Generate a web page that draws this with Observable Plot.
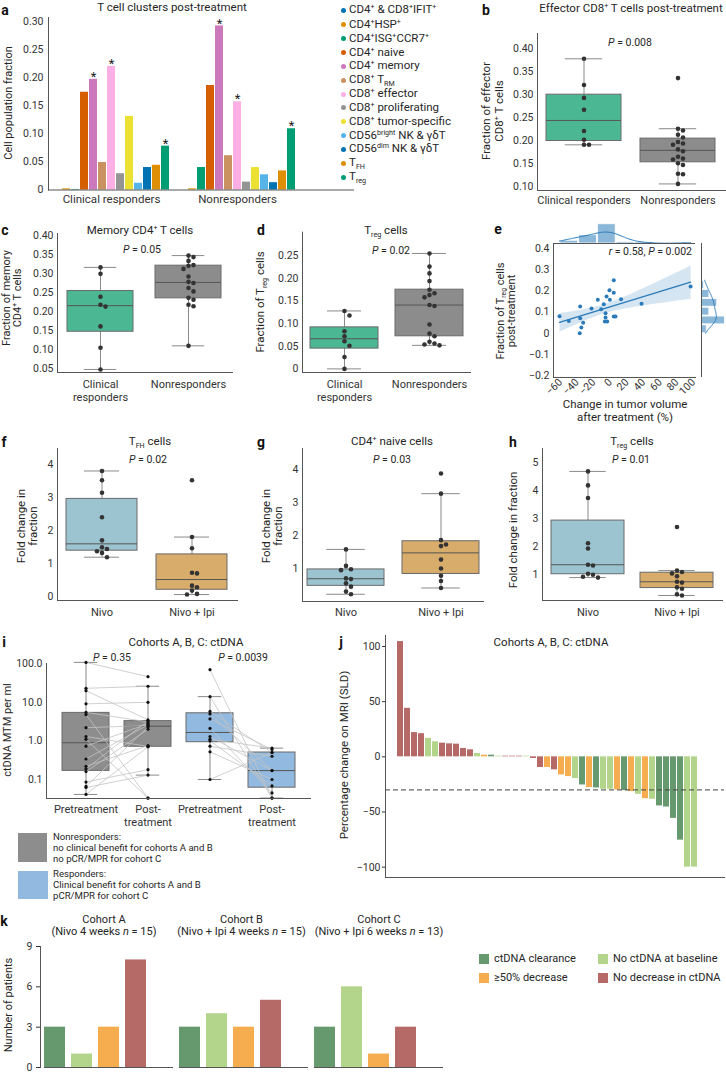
<!DOCTYPE html>
<html><head><meta charset="utf-8">
<script src="https://cdn.jsdelivr.net/npm/d3@7"></script>
<script src="https://cdn.jsdelivr.net/npm/@observablehq/plot@0.6"></script>
<style>
body{margin:0;background:#fff;}
#root{position:relative;width:726px;height:1073px;overflow:hidden;font-family:Roboto,"Noto Sans",sans-serif;color:#262626;background:#fff;}
.t{position:absolute;white-space:nowrap;line-height:1.15;}
.t sup{font-size:0.62em;vertical-align:0.6em;line-height:0;}
.t sub{font-size:0.62em;vertical-align:-0.3em;line-height:0;}
.sw{position:absolute;}
</style></head><body><div id="root"></div><script>
// ---------------- DATA ----------------
// panel a
const clusterNames = ["CD4+ & CD8+IFIT+","CD4+HSP+","CD4+ISG+CCR7+","CD4+ naive","CD4+ memory","CD8+ TRM","CD8+ effector","CD8+ proliferating","CD8+ tumor-specific","CD56bright NK & γδT","CD56dim NK & γδT","TFH","Treg"];
const clusterGroups = ["Clinical responders","Nonresponders"];
const clusterFracResponders = [0, 0.002, 0.001, 0.174, 0.197, 0.049, 0.220, 0.029, 0.131, 0.012, 0.040, 0.044, 0.078];
const clusterFracNonresponders = [0, 0.002, 0.040, 0.186, 0.292, 0.061, 0.157, 0.014, 0.040, 0.027, 0.013, 0.034, 0.109];
const clusterSignificant = ["CD4+ memory","CD8+ effector","Treg"];
const aTicks = [0, 0.05, 0.10, 0.15, 0.20, 0.25, 0.30];
// panel b
const responseGroups = ["Clinical responders","Nonresponders"];
const effectorResponders = [0.377, 0.320, 0.292, 0.266, 0.220, 0.201, 0.190, 0.190];
const effectorNonresponders = [0.335, 0.225, 0.221, 0.212, 0.206, 0.196, 0.193, 0.190, 0.180, 0.176, 0.164, 0.160, 0.158, 0.150, 0.146, 0.127, 0.126, 0.105];
const bTicks = [0.10, 0.15, 0.20, 0.25, 0.30, 0.35, 0.40];
// panel c
const memoryResponders = [0.316, 0.299, 0.239, 0.218, 0.213, 0.161, 0.105, 0.048];
const memoryNonresponders = [0.347, 0.343, 0.333, 0.322, 0.320, 0.312, 0.292, 0.278, 0.275, 0.262, 0.253, 0.236, 0.231, 0.218, 0.214, 0.110];
const cTicks = [0.05, 0.10, 0.15, 0.20, 0.25, 0.30, 0.35, 0.40];
// panel d
const tregResponders = [0.128, 0.118, 0.083, 0.072, 0.061, 0.051, 0.026, 0.0];
const tregNonresponders = [0.255, 0.226, 0.211, 0.194, 0.175, 0.167, 0.163, 0.158, 0.141, 0.139, 0.098, 0.078, 0.072, 0.060, 0.056, 0.054, 0.052];
const dTicks = [0, 0.05, 0.10, 0.15, 0.20, 0.25];
// panel e
const tumorVolumeChange = [-61.2, -50, -36.3, -36.3, -32.7, -34.9, -36.8, -22.7, -15.1, -11.1, -7.9, -4.6, -0.6, -5.8, -5.8, -6.6, -3.8, -1.1, 4.1, 4.1, 4.1, 6.2, 12.9, 37.5, 96.5];
const tregPostTreatment = [0.080, 0.058, 0.126, 0.071, 0.050, 0.027, 0.0, 0.117, 0.158, 0.114, 0.137, 0.174, 0.158, 0.095, 0.074, 0.055, 0.055, 0.204, 0.192, 0.251, 0.079, 0.079, 0.161, 0.140, 0.221];
const eXTicks = [-60, -40, -20, 0, 20, 40, 60, 80, 100];
const eYTicks = [-0.2, -0.1, 0, 0.1, 0.2, 0.3, 0.4];
// panels f, g, h
const armGroups = ["Nivo","Nivo + Ipi"];
const tfhNivo = [3.80, 3.52, 3.14, 2.40, 1.70, 1.49, 1.44, 1.37, 1.32, 1.19];
const tfhNivoIpi = [3.52, 1.80, 1.46, 0.72, 0.70, 0.33, 0.28, 0.18, 0.08, 0.06];
const naiveNivo = [1.58, 1.08, 0.98, 0.95, 0.70, 0.68, 0.55, 0.45, 0.30, 0.22];
const naiveNivoIpi = [3.88, 3.27, 1.86, 1.73, 1.68, 1.27, 1.00, 0.78, 0.62, 0.41];
const tregFoldNivo = [4.70, 4.20, 3.75, 2.13, 1.94, 1.36, 1.33, 1.04, 1.00, 0.93, 0.90];
const tregFoldNivoIpi = [2.71, 1.15, 1.10, 1.05, 0.95, 0.75, 0.72, 0.55, 0.50, 0.30, 0.26];
const fTicks = [0, 1, 2, 3, 4];
const gTicks = [1, 2, 3, 4];
const hTicks = [1, 2, 3, 4, 5];
// panel i
const ctdnaColumns = ["NR|pre","NR|post","R|pre","R|post"];
const ctdnaNRPre  = [108, 23, 20, 9.1, 5.5, 4.8, 2.2, 1.3, 1.1, 0.73, 0.34, 0.22, 0.19, 0.16, 0.086, 0.066, 0.062, 0.041];
const ctdnaNRPost = [46, 26, 3.5, 10, 3.1, 0.033, 2.5, 0.72, 0.033, 2.8, 2.6, 0.75, 3.3, 2.0, 0.18, 2.3, 0.13, 0.70];
const ctdnaRPre  = [70, 14, 5.8, 5.0, 3.7, 2.1, 1.3, 1.1, 1.0, 0.73, 0.52, 0.10];
const ctdnaRPost = [0.033, 0.033, 0.5, 0.17, 0.6, 0.045, 0.17, 0.65, 0.068, 0.4, 0.10, 0.5];
const iTicks = [0.1, 1, 10, 100];
// panel j
const statusCodes = ["C","B","D","N"];
const statusNames = ["ctDNA clearance","No ctDNA at baseline","≥50% decrease","No decrease in ctDNA"];
const mriChange = [104.5, 44, 22, 21, 16.7, 13.6, 12.4, 11.8, 11.5, 7.6, 6.4, 3.0, 1.5, 1.5, 0.6, 0.6, 0.6, 0.6, 0.6, -1.5, -9.7, -9.7, -11.8, -16.4, -17.9, -19.7, -25.5, -27.9, -28.2, -29.4, -29.4, -30, -30.6, -31.5, -34, -37.9, -38.5, -44.5, -45.5, -55.8, -75.5, -100, -100];
const mriStatus = ["N","N","N","N","B","B","N","N","N","N","N","B","D","C","B","N","N","N","B","N","N","D","N","D","D","B","C","D","C","B","B","D","C","D","B","D","B","C","C","C","C","B","B"];
const jTicks = [-100, -50, 0, 50, 100];
const jThreshold = -30;
// panel k
const cohortNames = ["Cohort A","Cohort B","Cohort C"];
const cohortACounts = [3, 1, 3, 8];
const cohortBCounts = [3, 4, 3, 5];
const cohortCCounts = [3, 6, 1, 3];
const kTicks = [0, 3, 6, 9];

// ---------------- STYLE ----------------
const FONT = "Roboto, 'Noto Sans', sans-serif";
const paletteA = ["#0173b2","#de8f05","#029e73","#d55e00","#cc78bc","#ca9161","#fbafe4","#949494","#ece133","#56b4e9","#0173b2","#de8f05","#029e73"];
const respColors = ["#4cb893", "#8c8c8c"];
const armColors = ["#9bc4d0", "#d8ac6b"];
const ctdnaColors = ["#8d8d8d", "#8d8d8d", "#92b9df", "#92b9df"];
const statusColors = ["#67996f", "#b3d58b", "#f6ad4f", "#b66a67"];
const E_BLUE = "#2b7bba";
const SPINE = "#555";
const baseStyle = {fontFamily: FONT, fontSize: "10.5px", color: "#333", background: "transparent", overflow: "visible", maxWidth: "none"};

const root = document.getElementById("root");
function mkPlot(opts, left, top) {
  const svg = Plot.plot({...opts, style: baseStyle});
  const w = document.createElement("div");
  w.style.cssText = `position:absolute;left:${left}px;top:${top}px;width:${opts.width}px;height:${opts.height}px;`;
  w.appendChild(svg);
  root.appendChild(w);
  return svg;
}
function txt(html, x, y, o = {}) {
  const d = document.createElement("div");
  d.className = "t";
  d.innerHTML = html;
  d.style.left = x + "px"; d.style.top = y + "px";
  d.style.fontSize = (o.size || 11.5) + "px";
  if (o.bold) d.style.fontWeight = "700";
  if (o.color) d.style.color = o.color;
  if (o.lh) d.style.lineHeight = o.lh;
  d.style.textAlign = o.align || "center";
  const ax = o.anchor === "start" ? "0" : o.anchor === "end" ? "-100%" : "-50%";
  d.style.transform = `translate(${ax},-50%)` + (o.rotate ? ` rotate(${o.rotate}deg)` : "");
  root.appendChild(d);
}
function swatch(x, y, w, h, color) {
  const d = document.createElement("div");
  d.className = "sw";
  d.style.cssText = `left:${x}px;top:${y}px;width:${w}px;height:${h}px;background:${color};`;
  root.appendChild(d);
}

// ---------------- HELPERS ----------------
function boxStats(group, vals, log) {
  const s = (log ? vals.map(Math.log10) : vals.slice()).sort(d3.ascending);
  const q1 = d3.quantile(s, 0.25), med = d3.quantile(s, 0.5), q3 = d3.quantile(s, 0.75);
  const iqr = q3 - q1;
  const lo = d3.min(s.filter(v => v >= q1 - 1.5 * iqr));
  const hi = d3.max(s.filter(v => v <= q3 + 1.5 * iqr));
  const f = log ? v => Math.pow(10, v) : v => v;
  return {group, q1: f(q1), med: f(med), q3: f(q3), lo: f(lo), hi: f(hi)};
}
function swarm(vals, yPix, d) {
  const pts = vals.map(v => ({v, py: yPix(v)})).sort((a, b) => a.py - b.py);
  const placed = [];
  for (const p of pts) {
    for (const k of [0, 1, -1, 2, -2, 3, -3, 4, -4]) {
      const x = k * d;
      if (placed.every(q => (q.x - x) ** 2 + (q.py - p.py) ** 2 >= d * d * 0.9)) { p.x = x; p.k = k; break; }
    }
    placed.push(p);
  }
  return pts;
}
function boxPanel(o) {
  const n = o.groups.length;
  const fx0 = o.ml, fx1 = o.width - o.mr, fy0 = o.mt, fy1 = o.height - o.mb;
  const step = (fx1 - fx0) / (n - o.pi + 2 * o.po);
  const bw = step * (1 - o.pi);
  const [d0, d1] = o.yDomain;
  const tr = o.log ? Math.log10 : v => v;
  const yPix = v => fy1 - (tr(v) - tr(d0)) / (tr(d1) - tr(d0)) * (fy1 - fy0);
  const stats = o.groups.map((g, i) => boxStats(g, o.series[i], o.log));
  const gap = o.dotGap || 5;
  const pts = [];
  o.groups.forEach((g, i) => {
    const sw = o.noSwarm ? o.series[i].map(v => ({v, k: 0})) : swarm(o.series[i], yPix, gap);
    sw.forEach(p => pts.push({group: g, value: p.v, k: p.k}));
  });
  const ks = Array.from(new Set(pts.map(p => p.k)));
  const marks = [
    Plot.ruleX(stats, {x: "group", y1: "lo", y2: "hi", stroke: "#8a8a8a", strokeWidth: 1}),
    Plot.tickY(stats, {x: "group", y: "lo", stroke: "#8a8a8a", insetLeft: bw * 0.25, insetRight: bw * 0.25}),
    Plot.tickY(stats, {x: "group", y: "hi", stroke: "#8a8a8a", insetLeft: bw * 0.25, insetRight: bw * 0.25}),
    Plot.barY(stats, {x: "group", y1: "q1", y2: "q3", fill: "group", stroke: "#6a6a6a", strokeWidth: 1}),
    Plot.tickY(stats, {x: "group", y: "med", stroke: "#555", strokeWidth: 1}),
    ...(o.over || []),
    ...ks.map(k => Plot.dot(pts.filter(p => p.k === k), {x: "group", y: "value", dx: k * gap, r: o.r || 2.3, fill: o.dotFill || "#333", stroke: "none"})),
    Plot.text(o.groups, {x: d => d, text: o.xFmt || (d => d), frameAnchor: "bottom", lineAnchor: "top", dy: o.xPad || 5, lineHeight: 1.15, fontSize: 11, fill: "#333"}),
    Plot.frame({anchor: "left", stroke: SPINE}),
    Plot.frame({anchor: "bottom", stroke: SPINE})
  ];
  mkPlot({
    width: o.width, height: o.height, marginTop: o.mt, marginBottom: o.mb, marginLeft: o.ml, marginRight: o.mr,
    x: {domain: o.groups, paddingInner: o.pi, paddingOuter: o.po, axis: null},
    y: {type: o.log ? "log" : "linear", domain: o.yDomain, ticks: o.ticks, tickFormat: o.yFmt, label: null, tickSize: 0, tickPadding: 4},
    color: {domain: o.groups, range: o.fills},
    marks
  }, o.left, o.top);
}
const fmt2 = d => d === 0 ? "0" : d.toFixed(2);
const fmt2b = d => d.toFixed(2);
const fmtInt = d => String(d);
const respFmt2 = d => d === "Clinical responders" ? "Clinical\nresponders" : d;

// ---------------- PANEL a ----------------
{
  const rows = [];
  clusterGroups.forEach((g, gi) => {
    const vals = gi === 0 ? clusterFracResponders : clusterFracNonresponders;
    clusterNames.forEach((c, ci) => rows.push({key: g + "|" + c, cluster: c, group: g, value: vals[ci]}));
  });
  const domain = [
    ...clusterNames.map(c => clusterGroups[0] + "|" + c), "gap",
    ...clusterNames.map(c => clusterGroups[1] + "|" + c), "t1", "t2", "t3", "t4", "t5", "t6"
  ];
  mkPlot({
    width: 360, height: 212, marginLeft: 48, marginRight: 6, marginTop: 17, marginBottom: 22.5,
    x: {domain, paddingInner: 0.12, paddingOuter: 0, axis: null},
    y: {domain: [0, 0.307], ticks: aTicks, tickFormat: fmt2, tickSize: 0, tickPadding: 5, label: null},
    color: {domain: clusterNames, range: paletteA},
    marks: [
      Plot.barY(rows, {x: "key", y: "value", fill: "cluster"}),
      Plot.text(rows.filter(r => clusterSignificant.includes(r.cluster)), {x: "key", y: "value", text: () => "*", dy: -2.5, fontSize: 13, fill: "#222"}),
      Plot.text(clusterGroups, {x: g => g + "|" + clusterNames[6], frameAnchor: "bottom", lineAnchor: "top", dy: 5, fontSize: 11.5, text: d => d, fill: "#333"}),
      Plot.ruleY([0], {stroke: SPINE}),
      Plot.frame({anchor: "left", stroke: SPINE})
    ]
  }, 0, 0);
}

// ---------------- PANEL b, c, d ----------------
boxPanel({left: 450, top: 25, width: 276, height: 190, ml: 87, mr: 1, mt: 8, mb: 25,
  groups: responseGroups, series: [effectorResponders, effectorNonresponders], fills: respColors,
  yDomain: [0.0907, 0.432], ticks: bTicks, yFmt: fmt2b, pi: 0.2, po: 0.1, xPad: 5});
boxPanel({left: 0, top: 225, width: 240, height: 180, ml: 57, mr: 8, mt: 8, mb: 33,
  groups: responseGroups, series: [memoryResponders, memoryNonresponders], fills: respColors,
  yDomain: [0.04, 0.405], ticks: cTicks, yFmt: fmt2b, pi: 0.245, po: 0.11, xPad: 7, xFmt: respFmt2});
boxPanel({left: 255, top: 225, width: 220, height: 180, ml: 47, mr: 5, mt: 6.7, mb: 33,
  groups: responseGroups, series: [tregResponders, tregNonresponders], fills: respColors,
  yDomain: [-0.008, 0.302], ticks: dTicks, yFmt: fmt2, pi: 0.2, po: 0.088, xPad: 7, xFmt: respFmt2});

// ---------------- PANEL e ----------------
{
  const ePts = tumorVolumeChange.map((x, i) => ({x, y: tregPostTreatment[i]}));
  const xs = tumorVolumeChange, ys = tregPostTreatment;
  const xMin = d3.min(xs), xMax = d3.max(xs), yMin = d3.min(ys), yMax = d3.max(ys);
  const nbx = 7, nby = 6;
  const eBinX = d3.range(nbx + 1).map(i => xMin + i * (xMax - xMin) / nbx);
  const eBinY = d3.range(nby + 1).map(i => yMin + i * (yMax - yMin) / nby);
  const countBins = (vals, th) => th.slice(0, -1).map((t, i) => vals.filter(v => v >= t && (i === th.length - 2 ? v <= th[i + 1] : v < th[i + 1])).length);
  const cx = countBins(xs, eBinX), cy = countBins(ys, eBinY);
  function kde(vals, lo, hi, binW) {
    const n = vals.length, sd = d3.deviation(vals), bw = sd * Math.pow(n, -0.2);
    return d3.range(120).map(i => {
      const v = lo + (hi - lo) * i / 119;
      const dens = d3.sum(vals, u => Math.exp(-0.5 * ((v - u) / bw) ** 2)) / (n * bw * Math.sqrt(2 * Math.PI));
      return {v, c: dens * n * binW};
    });
  }
  const kx = kde(xs, xMin, xMax, (xMax - xMin) / nbx);
  const ky = kde(ys, yMin, yMax, (yMax - yMin) / nby);
  const topMax = Math.max(d3.max(cx), d3.max(kx, d => d.c)) * 1.04;
  const rightMax = Math.max(d3.max(cy), d3.max(ky, d => d.c)) * 1.06;
  const xDom = [-68.4, 102.4], yDom = [-0.21, 0.425];
  mkPlot({
    width: 210, height: 190, marginLeft: 63, marginRight: 5, marginTop: 3, marginBottom: 53,
    x: {domain: xDom, ticks: eXTicks, tickRotate: -45, tickSize: 0, tickPadding: 3, label: null, tickFormat: d => d3.format("d")(d)},
    y: {domain: yDom, ticks: eYTicks, tickSize: 0, tickPadding: 4, label: null, tickFormat: d => d === 0 ? "0" : d3.format(".1f")(d)},
    marks: [
      Plot.linearRegressionY(ePts, {x: "x", y: "y", stroke: E_BLUE, fill: E_BLUE, fillOpacity: 0.2, strokeWidth: 1.3}),
      Plot.dot(ePts, {x: "x", y: "y", r: 2, fill: E_BLUE}),
      Plot.frame({anchor: "left", stroke: SPINE}),
      Plot.frame({anchor: "bottom", stroke: SPINE})
    ]
  }, 490, 240);
  mkPlot({
    width: 142, height: 23, marginLeft: 0, marginRight: 0, marginTop: 3, marginBottom: 0,
    x: {domain: xDom, axis: null}, y: {domain: [0, topMax], axis: null},
    marks: [
      Plot.rectY(ePts, Plot.binX({y: "count"}, {x: "x", thresholds: eBinX, fill: E_BLUE, fillOpacity: 0.55, stroke: "white", strokeWidth: 0.8})),
      Plot.line(kx, {x: "v", y: "c", stroke: E_BLUE, strokeWidth: 1}),
      Plot.ruleY([0], {stroke: SPINE})
    ]
  }, 553, 220);
  mkPlot({
    width: 26, height: 134, marginLeft: 1, marginRight: 0, marginTop: 0, marginBottom: 0,
    x: {domain: [0, rightMax], axis: null}, y: {domain: yDom, axis: null},
    marks: [
      Plot.rectX(ePts, Plot.binY({x: "count"}, {y: "y", thresholds: eBinY, fill: E_BLUE, fillOpacity: 0.55, stroke: "white", strokeWidth: 0.8})),
      Plot.line(ky, {x: "c", y: "v", stroke: E_BLUE, strokeWidth: 1}),
      Plot.ruleX([0], {stroke: SPINE})
    ]
  }, 700, 243);
}

// ---------------- PANEL f, g, h ----------------
boxPanel({left: 0, top: 440, width: 245, height: 190, ml: 57, mr: 8, mt: 8, mb: 30,
  groups: armGroups, series: [tfhNivo, tfhNivoIpi], fills: armColors,
  yDomain: [-0.12, 4.48], ticks: fTicks, yFmt: fmtInt, pi: 0.209, po: 0.094, xPad: 7});
boxPanel({left: 250, top: 440, width: 240, height: 190, ml: 52, mr: 7, mt: 8, mb: 29,
  groups: armGroups, series: [naiveNivo, naiveNivoIpi], fills: armColors,
  yDomain: [0, 4.64], ticks: gTicks, yFmt: fmtInt, pi: 0.19, po: 0.047, xPad: 6});
boxPanel({left: 490, top: 440, width: 236, height: 190, ml: 52, mr: 4, mt: 8, mb: 30,
  groups: armGroups, series: [tregFoldNivo, tregFoldNivoIpi], fills: armColors,
  yDomain: [0.08, 5.52], ticks: hTicks, yFmt: fmtInt, pi: 0.184, po: 0.098, xPad: 7});

// ---------------- PANEL i ----------------
{
  const links = [
    ...ctdnaNRPre.map((v, i) => ({a: "NR|pre", b: "NR|post", pre: v, post: ctdnaNRPost[i]})),
    ...ctdnaRPre.map((v, i) => ({a: "R|pre", b: "R|post", pre: v, post: ctdnaRPost[i]}))
  ];
  boxPanel({left: 0, top: 655, width: 315, height: 180, ml: 46, mr: 5, mt: 8, mb: 37,
    groups: ctdnaColumns, series: [ctdnaNRPre, ctdnaNRPost, ctdnaRPre, ctdnaRPost], fills: ctdnaColors,
    yDomain: [0.0322, 101], log: true, ticks: iTicks, yFmt: d => d.toFixed(1), pi: 0.25, po: 0.227, xPad: 6,
    xFmt: d => d.endsWith("pre") ? "Pretreatment" : "Post-\ntreatment",
    noSwarm: true, r: 1.6, dotFill: "#111",
    over: [Plot.link(links, {x1: "a", y1: "pre", x2: "b", y2: "post", stroke: "#c4c4c4", strokeWidth: 0.8})]});
}

// ---------------- PANEL j ----------------
{
  const rows = mriChange.map((v, i) => ({i: String(i), v, s: statusNames[statusCodes.indexOf(mriStatus[i])]}));
  mkPlot({
    width: 371, height: 255, marginLeft: 30, marginRight: 2, marginTop: 7, marginBottom: 6,
    x: {domain: rows.map(d => d.i), paddingInner: 0.1, paddingOuter: 0.59, align: 0.3, axis: null},
    y: {domain: [-109.4, 110], ticks: jTicks, tickSize: 3, tickPadding: 2, label: null},
    color: {domain: statusNames, range: statusColors},
    marks: [
      Plot.barY(rows, {x: "i", y: "v", fill: "s"}),
      Plot.ruleY([jThreshold], {stroke: "#444", strokeDasharray: "5,3", strokeWidth: 1}),
      Plot.frame({anchor: "left", stroke: SPINE}),
      Plot.frame({anchor: "bottom", stroke: SPINE})
    ]
  }, 355, 628);
}

// ---------------- PANEL k ----------------
{
  const counts = [cohortACounts, cohortBCounts, cohortCCounts];
  const rows = [];
  cohortNames.forEach((c, ci) => statusNames.forEach((s, si) => rows.push({key: c + "|" + s, s, n: counts[ci][si]})));
  const domain = cohortNames.flatMap(c => [...statusNames.map(s => c + "|" + s), c + "|"]);
  mkPlot({
    width: 452, height: 133, marginLeft: 40, marginRight: 4, marginTop: 6, marginBottom: 6,
    x: {domain, paddingInner: 0.21, paddingOuter: 0.1, axis: null},
    y: {domain: [0, 9], ticks: kTicks, tickSize: 4, tickPadding: 4, label: null},
    color: {domain: statusNames, range: statusColors},
    marks: [
      Plot.barY(rows, {x: "key", y: "n", fill: "s"}),
      Plot.ruleY(cohortNames, {y: () => 0, x1: c => c + "|" + statusNames[0], x2: c => c + "|", stroke: SPINE}),
      Plot.frame({anchor: "left", stroke: SPINE})
    ]
  }, 0, 940);
}

// ---------------- TEXT OVERLAYS ----------------
// panel letters
[["a",5,10],["b",486,10],["c",5,230],["d",261,230],["e",498,229],["f",4,442],["g",261,442],["h",513,442],["i",4,642],["j",341,642],["k",4,921]]
  .forEach(([l, x, y]) => txt(l, x, y, {size: 14, bold: true, color: "#111"}));
// titles
txt("T cell clusters post-treatment", 172, 8);
txt("Effector CD8<sup>+</sup> T cells post-treatment", 631, 9);
txt("Memory CD4<sup>+</sup> T cells", 140, 231);
txt("T<sub>reg</sub> cells", 386, 231);
txt("T<sub>FH</sub> cells", 150, 442);
txt("CD4<sup>+</sup> naive cells", 392, 442);
txt("T<sub>reg</sub> cells", 632, 442);
txt("Cohorts A, B, C: ctDNA", 186, 643);
txt("Cohorts A, B, C: ctDNA", 551, 643);
// P values
const pv = (s) => "<i>P</i> = " + s;
txt(pv("0.008"), 630, 43, {size: 10.5});
txt(pv("0.05"), 142, 250, {size: 10.5});
txt(pv("0.02"), 391, 251, {size: 10.5});
txt(pv("0.02"), 148, 460, {size: 10.5});
txt(pv("0.03"), 392, 460, {size: 10.5});
txt(pv("0.01"), 631, 460, {size: 10.5});
txt(pv("0.35"), 112, 658, {size: 10.5});
txt(pv("0.0039"), 243, 658, {size: 10.5});
txt("<i>r</i> = 0.58, <i>P</i> = 0.002", 692, 252, {size: 10.5, anchor: "end"});
// axis labels
txt("Cell population fraction", 9, 103, {rotate: -90, size: 11});
txt("Fraction of effector<br>CD8<sup>+</sup> T cells", 493, 111, {rotate: -90, lh: 1.1});
txt("Fraction of memory<br>CD4<sup>+</sup> T cells", 12.5, 298, {rotate: -90, size: 11, lh: 0.98});
txt("Fraction of T<sub>reg</sub> cells", 261, 302, {rotate: -90});
txt("Fraction of T<sub>reg</sub> cells<br>post-treatment", 507, 311, {rotate: -90, size: 11, lh: 0.98});
txt("Fold change in<br>fraction", 27, 526, {rotate: -90, lh: 1.08});
txt("Fold change in<br>fraction", 272, 526, {rotate: -90, lh: 1.08});
txt("Fold change in fraction", 514, 530, {rotate: -90});
txt("ctDNA MTM per ml", 8, 730, {rotate: -90, size: 11});
txt("Percentage change on MRI (SLD)", 345, 755, {rotate: -90});
txt("Number of patients", 9, 1005, {rotate: -90, size: 11});
txt("Change in tumor volume<br>after treatment (%)", 625, 411, {lh: 1.1});
// panel a legend
const clusterLabelHTML = ["CD4<sup>+</sup> &amp; CD8<sup>+</sup>IFIT<sup>+</sup>","CD4<sup>+</sup>HSP<sup>+</sup>","CD4<sup>+</sup>ISG<sup>+</sup>CCR7<sup>+</sup>","CD4<sup>+</sup> naive","CD4<sup>+</sup> memory","CD8<sup>+</sup> T<sub>RM</sub>","CD8<sup>+</sup> effector","CD8<sup>+</sup> proliferating","CD8<sup>+</sup> tumor-specific","CD56<sup>bright</sup> NK &amp; γδT","CD56<sup>dim</sup> NK &amp; γδT","T<sub>FH</sub>","T<sub>reg</sub>"];
const legendRowsY = [10, 24.7, 38.7, 52.7, 66, 80, 94, 107.7, 121.7, 135.7, 149.3, 163.3, 177.3];
clusterLabelHTML.forEach((h, i) => {
  const d = document.createElement("div");
  d.className = "sw";
  d.style.cssText = `left:340.5px;top:${legendRowsY[i] - 2.5}px;width:5px;height:5px;border-radius:50%;background:${paletteA[i]};`;
  root.appendChild(d);
  txt(h, 349, legendRowsY[i], {size: 11.5, anchor: "start", align: "left"});
});
// panel i legend
swatch(18, 833, 29, 29, "#8d8d8d");
swatch(18, 871, 30, 28, "#92b9df");
[["Nonresponders:", 837], ["no clinical benefit for cohorts A and B", 848], ["no pCR/MPR for cohort C", 859],
 ["Responders:", 873.5], ["Clinical benefit for cohorts A and B", 884.5], ["pCR/MPR for cohort C", 895.5]]
  .forEach(([s, y]) => txt(s, 53, y, {size: 9.6, anchor: "start", align: "left"}));
// panel k titles and legend
txt("Cohort A<br>(Nivo 4 weeks <i>n</i> = 15)", 104, 926.5, {size: 11});
txt("Cohort B<br>(Nivo + Ipi 4 weeks <i>n</i> = 15)", 241.5, 926.5, {size: 11});
txt("Cohort C<br>(Nivo + Ipi 6 weeks <i>n</i> = 13)", 379, 926.5, {size: 11});
[[0, 479, 959], [1, 598, 959], [2, 479, 977.7], [3, 598, 977.7]].forEach(([i, x, y]) => {
  swatch(x, y - 5, 10, 10, statusColors[i]);
  txt(statusNames[i], x + 15, y, {size: 11, anchor: "start", align: "left"});
});
</script></body></html>
